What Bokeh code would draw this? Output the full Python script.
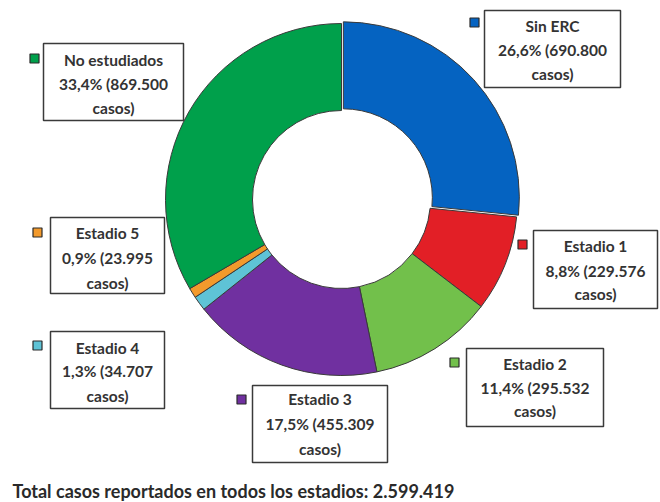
import numpy as np
from bokeh.plotting import figure
from bokeh.models import Range1d, ColumnDataSource
from bokeh.core.properties import value
from bokeh.embed import file_html
from bokeh.resources import INLINE

# ---- data ----
categories = ["Sin ERC", "Estadio 1", "Estadio 2", "Estadio 3", "Estadio 4", "Estadio 5", "No estudiados"]
cases = [690800, 229576, 295532, 455309, 34707, 23995, 869500]
pct_labels = ["26,6", "8,8", "11,4", "17,5", "1,3", "0,9", "33,4"]
total_label = "Total casos reportados en todos los estadios: 2.599.419"
colors = ["#0563C1", "#E21F26", "#72C04B", "#7030A0", "#5EC3D6", "#F39A2C", "#00A04B"]

# ---- layout (pixel coords of the page, y measured from top) ----
W, H = 660, 502
def Y(py):
    return H - py

cx, cy = 341, 199
r_out, r_in = 176, 89
explode = [2.5, 0, 0, 0, 0, 0, 0]

# label boxes: (left, top, right, bottom), marker center, line y centers
boxes = [
    (484, 10, 620, 87),
    (533, 230, 657, 308),
    (466, 348, 603, 426),
    (252, 385, 387, 462),
    (50, 331, 164, 408),
    (50, 217, 164, 293),
    (43, 43, 183, 120),
]
markers = [(474, 22), (522, 244), (454, 362), (241, 399), (37, 345), (37, 232), (34, 58)]
line_ys = [
    (25, 49, 73),
    (245, 270, 293),
    (363, 387, 410),
    (398, 423, 448),
    (347, 370, 395),
    (232, 257, 282),
    (59, 83, 107),
]

p = figure(width=W, height=H, x_range=Range1d(0, W), y_range=Range1d(0, H),
           x_axis_type=None, y_axis_type=None, toolbar_location=None,
           output_backend="svg", min_border=0)
p.outline_line_color = None
p.grid.visible = False
p.background_fill_color = "white"

vals = np.array(cases, dtype=float)
fr = vals / vals.sum()
cum = np.concatenate([[0], np.cumsum(fr)]) * 2 * np.pi
starts = np.pi / 2 - cum[1:]
ends = np.pi / 2 - cum[:-1]
mids = (starts + ends) / 2
xs = [cx + e * np.cos(m) for e, m in zip(explode, mids)]
ys = [Y(cy) + e * np.sin(m) for e, m in zip(explode, mids)]

src = ColumnDataSource(dict(x=xs, y=ys, s=starts, e=ends, c=colors))
p.annular_wedge(x="x", y="y", inner_radius=r_in, outer_radius=r_out,
                start_angle="s", end_angle="e", fill_color="c",
                line_color="#3a3a3a", line_width=1, source=src)

# boxes
p.quad(left=[b[0] for b in boxes], right=[b[2] for b in boxes],
       top=[Y(b[1]) for b in boxes], bottom=[Y(b[3]) for b in boxes],
       fill_color="white", line_color="#3a3a3a", line_width=1.5)

# legend-like markers
p.rect(x=[m[0] for m in markers], y=[Y(m[1]) for m in markers], width=9, height=9,
       fill_color=colors, line_color="#2a2a2a", line_width=1.2)

# texts
tx, ty, tt = [], [], []
for i, name in enumerate(categories):
    bx = (boxes[i][0] + boxes[i][2]) / 2
    count = "{:,}".format(cases[i]).replace(",", ".")
    lines = [name, f"{pct_labels[i]}% ({count}", "casos)"]
    for ly, t in zip(line_ys[i], lines):
        tx.append(bx)
        ty.append(Y(ly))
        tt.append(t)
p.text(x=tx, y=ty, text=tt, text_align="center", text_baseline="middle",
       text_font=value("Lato"), text_font_style="bold", text_font_size="15.5px",
       text_color="#333333")

p.text(x=[12], y=[Y(490)], text=[total_label], text_align="left", text_baseline="middle",
       text_font=value("Lato"), text_font_style="bold", text_font_size="18px",
       text_color="#2a2a2a")

open("out.html", "w").write(file_html(p, INLINE))
